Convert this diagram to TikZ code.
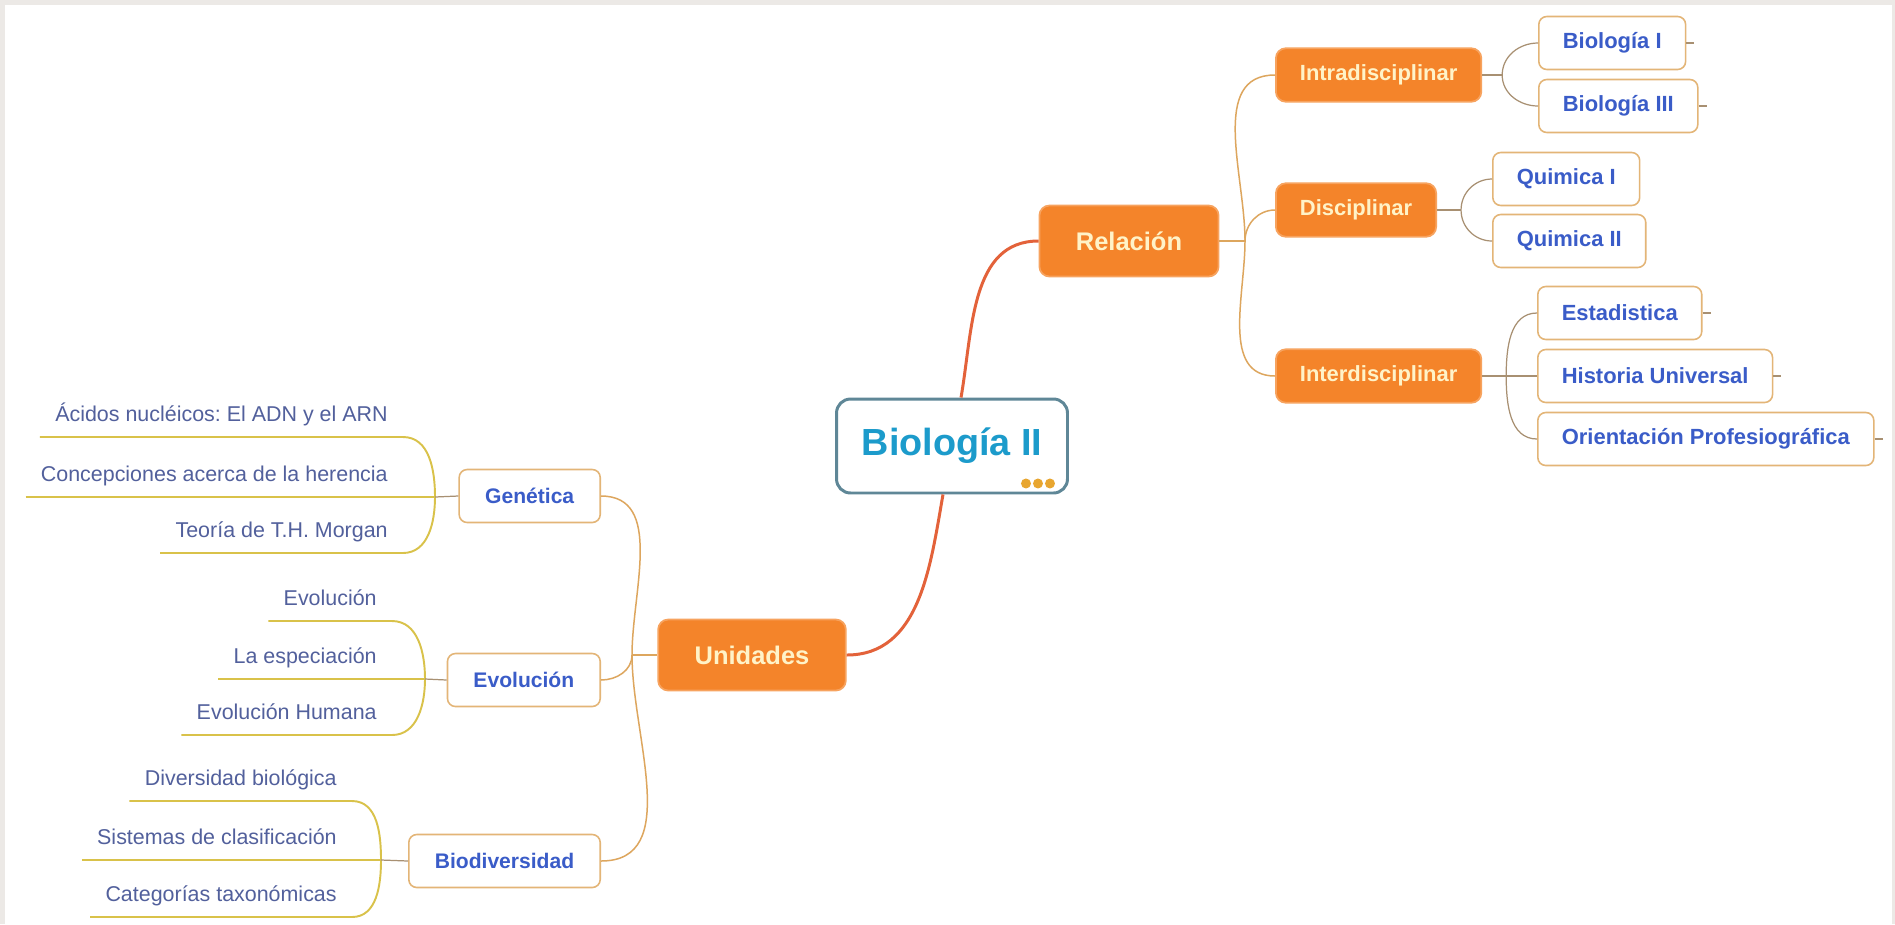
\documentclass[tikz,border=0pt]{standalone}
\usepackage{fontspec}
\setmainfont{Liberation Sans}
\usetikzlibrary{calc}
\frenchspacing

\definecolor{naranja}{HTML}{F4842A}
\definecolor{crema}{HTML}{FFF3C8}
\definecolor{azul}{HTML}{3A5CC8}
\definecolor{celeste}{HTML}{1C9BCB}
\definecolor{pizarra}{HTML}{5F8797}
\definecolor{rojizo}{HTML}{E3623A}
\definecolor{ocre}{HTML}{DDA65E}
\definecolor{marron}{HTML}{A89072}
\definecolor{amarillo}{HTML}{D9C24A}
\definecolor{grisazul}{HTML}{52609C}
\definecolor{marco}{HTML}{ECE9E6}
\definecolor{borde}{HTML}{E3B577}
\definecolor{puntos}{HTML}{E8A630}

\begin{document}
\begin{tikzpicture}[x=0.02cm, y=-0.02cm,
  central/.style={draw=pizarra, line width=1.7pt, rounded corners=0.28cm, fill=white, text=celeste,
    font=\fontsize{21.5}{24}\selectfont\bfseries, minimum width=4.62cm, minimum height=1.88cm},
  rama/.style={fill=naranja, draw=naranja!75!white, line width=1pt, rounded corners=0.2cm, text=crema,
    font=\fontsize{14.5}{16}\selectfont\bfseries, minimum height=1.42cm, inner xsep=0.73cm},
  subrama/.style={rama, font=\fontsize{12.5}{14}\selectfont\bfseries, minimum height=1.07cm, inner xsep=0.48cm},
  caja/.style={draw=borde, line width=0.9pt, rounded corners=0.16cm, fill=white, text=azul,
    font=\fontsize{12.5}{14}\selectfont\bfseries, minimum height=1.06cm, inner xsep=0.48cm},
  hoja/.style={text=grisazul, font=\fontsize{12.2}{14}\selectfont, inner xsep=0.3cm, inner ysep=0.2cm,
    text height=0.3cm, text depth=0.1cm, anchor=south east},
  grueso/.style={rojizo, line width=1.7pt},
  tronco/.style={ocre, line width=0.85pt},
  fino/.style={marron, line width=0.7pt},
  subrayado/.style={amarillo, line width=1.1pt}]

  \useasboundingbox (0, 0) rectangle (1895, 924);
  \fill[marco] (0, 0) rectangle (1895, 924);
  \fill[white] (5, 5) rectangle (1892, 924);

% centro
  \draw (952, 446) node[central] (bio) {Biología II};
  \foreach \i in {0, 1, 2}{
    \fill[puntos] ($(bio.south east) + (-43 + 12*\i, -11)$) circle (0.1cm);
  }

  \draw (1129, 241) node[rama] (rel) {Relación};
  \draw (752, 655) node[rama] (uni) {Unidades};

  \draw[grueso] ($(bio.north) + (9, 0)$) to[out=80, in=180] (rel.west);
  \draw[grueso] ($(bio.south) + (-9, 0)$) to[out=-100, in=0] (uni.east);

% Relacion
  \draw (1275, 75) node[subrama, anchor=west] (intra) {Intradisciplinar};
  \draw (1275, 210) node[subrama, anchor=west] (disc) {Disciplinar};
  \draw (1275, 376) node[subrama, anchor=west] (inter) {Interdisciplinar};

  \coordinate (jr) at (1245, 241);
  \draw[tronco] (rel.east) -- (jr);
  \foreach \n/\a in {intra/90, disc/90, inter/-90}{
    \draw[tronco] (jr) to[out=\a, in=180] (\n.west);
  }

  \draw (1538, 43) node[caja, anchor=west] (b1) {Biología I};
  \draw (1538, 106) node[caja, anchor=west] (b3) {Biología III};
  \draw (1492, 179) node[caja, anchor=west] (q1) {Quimica I};
  \draw (1492, 241) node[caja, anchor=west] (q2) {Quimica II};
  \draw (1537, 313) node[caja, anchor=west] (est) {Estadistica};
  \draw (1537, 376) node[caja, anchor=west] (his) {Historia Universal};
  \draw (1537, 439) node[caja, anchor=west] (ori) {Orientación Profesiográfica};

  \coordinate (ji) at ($(intra.east) + (20, 0)$);
  \coordinate (jd) at ($(disc.east) + (24, 0)$);
  \coordinate (jn) at ($(inter.east) + (24, 0)$);
  \draw[fino] (intra.east) -- (ji);
  \draw[fino] (disc.east) -- (jd);
  \draw[fino] (inter.east) -- (jn) -- (his.west);
  \foreach \j/\a/\b in {ji/b1/b3, jd/q1/q2, jn/est/ori}{
    \draw[fino] (\a.west) to[out=180, in=90] (\j) to[out=-90, in=180] (\b.west);
  }
  \foreach \n in {b1, b3, est, his, ori}{
    \draw[fino] (\n.east) -- ++(8, 0);
  }

% Unidades
  \draw (601, 496) node[caja, anchor=east, font=\fontsize{12}{14}\selectfont\bfseries, inner xsep=0.52cm] (gen) {Genética};
  \draw (601, 680) node[caja, anchor=east, font=\fontsize{12}{14}\selectfont\bfseries, inner xsep=0.52cm] (evo) {Evolución};
  \draw (601, 861) node[caja, anchor=east, font=\fontsize{12}{14}\selectfont\bfseries, inner xsep=0.52cm] (biod) {Biodiversidad};

  \coordinate (ju) at (632, 655);
  \draw[tronco] (uni.west) -- (ju);
  \draw[tronco] (gen.east) to[out=0, in=90] (ju) to[out=-90, in=0] (biod.east);
  \draw[tronco] (ju) to[out=-90, in=0] (evo.east);

% hojas
  \draw (403, 437) node[hoja] (g1) {Ácidos nucléicos: El ADN y el ARN};
  \draw (403, 497) node[hoja] (g2) {Concepciones acerca de la herencia};
  \draw (403, 553) node[hoja] (g3) {Teoría de T.H. Morgan};
  \draw (392, 621) node[hoja] (e1) {Evolución};
  \draw (392, 679) node[hoja] (e2) {La especiación};
  \draw (392, 735) node[hoja] (e3) {Evolución Humana};
  \draw (352, 801) node[hoja] (d1) {Diversidad biológica};
  \draw (352, 860) node[hoja] (d2) {Sistemas de clasificación};
  \draw (352, 917) node[hoja] (d3) {Categorías taxonómicas};

  \coordinate (jg) at (435, 497);
  \coordinate (je) at (425, 679);
  \coordinate (jb) at (381, 860);
  \foreach \j/\p/\n in {jg/gen/g, je/evo/e, jb/biod/d}{
    \draw[subrayado] (\n1.south west) -- (\n1.south east) to[out=0, in=90] (\j)
      to[out=-90, in=0] (\n3.south east) -- (\n3.south west);
    \draw[subrayado] (\n2.south west) -- (\j);
    \draw[fino] (\j) -- (\p.west);
  }
\end{tikzpicture}
\end{document}
